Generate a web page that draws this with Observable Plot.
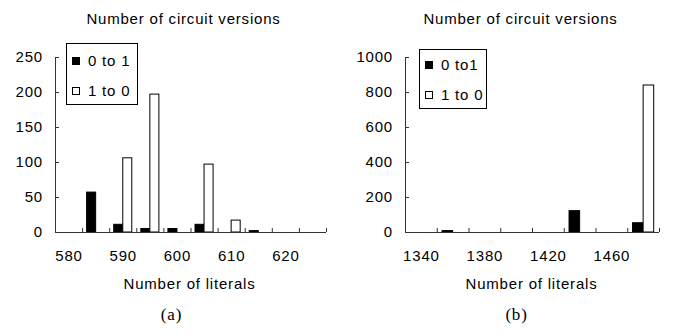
<!DOCTYPE html>
<html><head><meta charset="utf-8">
<script src="https://cdn.jsdelivr.net/npm/d3@7"></script>
<script src="https://cdn.jsdelivr.net/npm/@observablehq/plot@0.6"></script>
<style>
body{margin:0;background:#fff;}
#wrap{position:relative;width:676px;height:334px;font-family:"Liberation Sans",Arial,sans-serif;color:#000;overflow:hidden;}
.panel{position:absolute;top:0;width:338px;height:334px;}
.legend{position:absolute;border:1px solid #000;background:#fff;box-sizing:border-box;}
.sw{position:absolute;width:8px;height:8px;box-sizing:border-box;border:1px solid #000;}
.lt{position:absolute;font-size:15px;line-height:16px;letter-spacing:0.8px;white-space:nowrap;}
</style>
</head><body>
<div id="wrap">
  <div class="panel" id="pa" style="left:0"></div>
  <div class="panel" id="pb" style="left:338px"></div>
</div>
<script>
// Panel (a)
const categoriesA = [580, 585, 590, 595, 600, 605, 610, 615, 620, 625];
const zeroToOneA = [0, 57, 11, 5, 5, 11, 0, 2, 0, 0];
const oneToZeroA = [0, 0, 106, 197, 0, 97, 17, 0, 0, 0];
const xLabelsA = [580, 590, 600, 610, 620];
const yTicksA = [0, 50, 100, 150, 200, 250];
const legendA = ["0 to 1", "1 to 0"];

// Panel (b)
const categoriesB = [1340, 1360, 1380, 1400, 1420, 1440, 1460, 1480];
const zeroToOneB = [0, 8, 0, 0, 0, 122, 0, 53];
const oneToZeroB = [0, 0, 0, 0, 0, 0, 0, 840];
const xLabelsB = [1340, 1380, 1420, 1460];
const yTicksB = [0, 200, 400, 600, 800, 1000];
const legendB = ["0 to1", "1 to 0"];

const titleText = "Number of circuit versions";
const xTitleText = "Number of literals";

function panel(cats, s1, s2, xLabels, yTicks, tag, o) {
  const step = cats[1] - cats[0];
  const bw = step / 3;
  const bounds = cats.map(c => c - step / 2).concat([cats[cats.length - 1] + step / 2]);
  const black = cats.map((c, i) => ({c, v: s1[i]})).filter(d => d.v > 0);
  const white = cats.map((c, i) => ({c, v: s2[i]})).filter(d => d.v > 0);
  return Plot.plot({
    width: 338, height: 334,
    marginLeft: o.ml, marginRight: o.mr, marginTop: 57, marginBottom: 102,
    style: {fontFamily: "Liberation Sans, Arial, sans-serif", fontSize: "15px", letterSpacing: "0.8px", color: "#000", background: "#fff", overflow: "visible"},
    x: {domain: [bounds[0], bounds[bounds.length - 1]]},
    y: {domain: [0, yTicks[yTicks.length - 1]]},
    marks: [
      Plot.rect(black, {x1: d => d.c - bw, x2: d => d.c, y1: 0, y2: d => d.v, fill: "#000", stroke: "#000", strokeWidth: 1}),
      Plot.rect(white, {x1: d => d.c, x2: d => d.c + bw, y1: 0, y2: d => d.v, fill: "#fff", stroke: "#000", strokeWidth: 1}),
      Plot.ruleY([0], {stroke: "#333"}),
      Plot.ruleX([bounds[0]], {stroke: "#333"}),
      Plot.axisX({ticks: bounds, tickSize: -4, tickFormat: () => "", label: null, stroke: "#333"}),
      Plot.axisX({ticks: xLabels, tickSize: 0, tickPadding: 18, tickFormat: d => String(d), label: null, fontSize: 15}),
      Plot.axisY({ticks: yTicks, tickSize: -4, tickPadding: 16.5, tickFormat: d => String(d), label: null, fontSize: 15, stroke: "#333"}),
      Plot.text([titleText], {frameAnchor: "top", dy: -44.5, dx: o.tdx, fontSize: 15}),
      Plot.text([xTitleText], {frameAnchor: "bottom", dy: 56, dx: o.xdx, fontSize: 15}),
      Plot.text([tag], {frameAnchor: "bottom", dy: 87, dx: o.cdx, fontSize: 17, fontFamily: "Liberation Serif, Times New Roman, serif"})
    ]
  });
}

document.getElementById("pa").appendChild(panel(categoriesA, zeroToOneA, oneToZeroA, xLabelsA, yTicksA, "(a)", {ml: 55, mr: 12, tdx: -7.5, xdx: -1.5, cdx: -19.5}));
document.getElementById("pb").appendChild(panel(categoriesB, zeroToOneB, oneToZeroB, xLabelsB, yTicksB, "(b)", {ml: 67, mr: 17, tdx: -12, xdx: -1, cdx: -16}));

function legend(labels, box) {
  const wrap = document.getElementById("wrap");
  const b = document.createElement("div");
  b.className = "legend";
  Object.assign(b.style, {left: box.x + "px", top: box.y + "px", width: box.w + "px", height: box.h + "px"});
  wrap.appendChild(b);
  labels.forEach((lab, i) => {
    const cy = box.y + box.c[i];
    const sw = document.createElement("div");
    sw.className = "sw";
    Object.assign(sw.style, {left: (box.x + 6) + "px", top: (cy - 4) + "px", background: i === 0 ? "#000" : "#fff"});
    wrap.appendChild(sw);
    const t = document.createElement("div");
    t.className = "lt";
    t.textContent = lab;
    Object.assign(t.style, {left: (box.x + 22) + "px", top: (cy - 8) + "px"});
    wrap.appendChild(t);
  });
}
legend(legendA, {x: 66, y: 43, w: 72, h: 62, c: [18, 47.5]});
legend(legendB, {x: 419, y: 49, w: 68, h: 60, c: [16, 45.5]});
</script>
</body></html>
